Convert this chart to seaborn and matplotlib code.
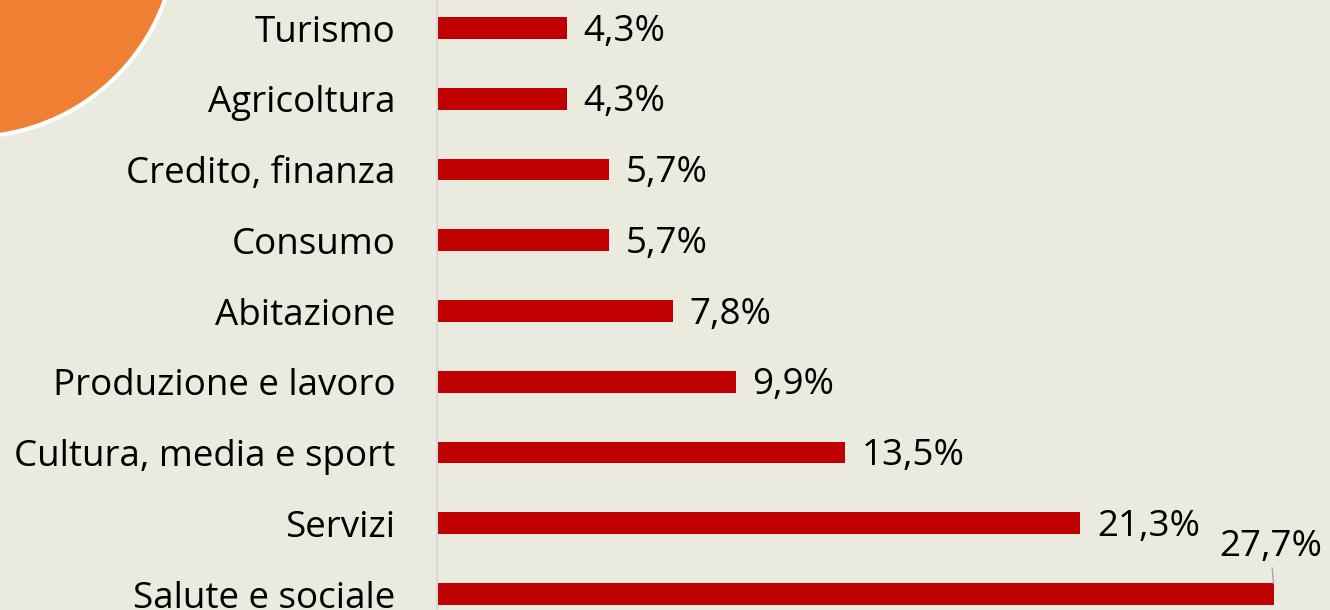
import matplotlib
matplotlib.use('Agg')
import matplotlib.pyplot as plt
import seaborn as sns
import pandas as pd
from matplotlib.patches import Ellipse

settori = ['Turismo', 'Agricoltura', 'Credito, finanza', 'Consumo', 'Abitazione',
           'Produzione e lavoro', 'Cultura, media e sport', 'Servizi', 'Salute e sociale']
quote = [4.3, 4.3, 5.7, 5.7, 7.8, 9.9, 13.5, 21.3, 27.7]
etichette = ['4,3%', '4,3%', '5,7%', '5,7%', '7,8%', '9,9%', '13,5%', '21,3%', '27,7%']

df = pd.DataFrame({'settore': settori, 'quota': quote})

sfondo = '#EAEADF'
sns.set_style('white')
plt.rcParams['font.family'] = ['Open Sans', 'DejaVu Sans']
plt.rcParams['text.color'] = 'black'
plt.rcParams['ytick.color'] = 'black'

fig = plt.figure(figsize=(13.3, 6.1), dpi=100, facecolor=sfondo)
ax = fig.add_axes([437 / 1330, 0, 1 - 437 / 1330, 1])
ax.set_facecolor(sfondo)

sns.barplot(data=df, y='settore', x='quota', color='#C00000', width=0.31,
            saturation=1, linewidth=0, ax=ax)

ax.set_xlim(0, 29.57)
ax.set_ylim(8.226, -0.396)
ax.set_xlabel('')
ax.set_ylabel('')
ax.set_xticks([])
ax.tick_params(axis='y', length=0, pad=30, labelsize=26.5, labelcolor='black')
for s in ['top', 'right', 'bottom']:
    ax.spines[s].set_visible(False)
ax.spines['left'].set_color('#D9D9D9')
ax.spines['left'].set_linewidth(1.5)

for i, (v, t) in enumerate(zip(quote, etichette)):
    if i == len(quote) - 1:
        ax.annotate(t, xy=(v, i - 0.15), xytext=(v - 0.1, i - 0.67),
                    ha='center', va='center', fontsize=26.5, color='black',
                    arrowprops=dict(arrowstyle='-', color='#A6A6A6', lw=1,
                                    shrinkA=15, shrinkB=0))
    else:
        ax.text(v + 0.55, i + 0.05, t, ha='left', va='center', fontsize=26.5,
                color='black')

# cerchio arancione in alto a sinistra
cerchio = Ellipse((-30 / 1330, 1 + 70 / 610), 2 * 207 / 1330, 2 * 207 / 610,
                  transform=fig.transFigure, facecolor='#EE7F33',
                  edgecolor='white', linewidth=3, zorder=0)
fig.patches.append(cerchio)

fig.savefig('out.png', dpi=100, facecolor=sfondo)
